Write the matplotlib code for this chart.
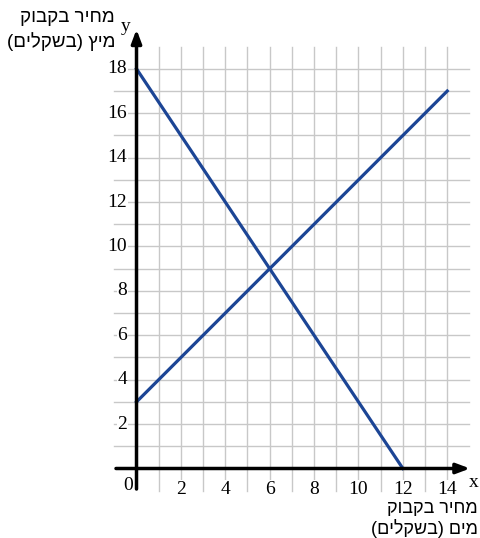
import matplotlib
matplotlib.use("Agg")
import matplotlib.pyplot as plt

# נתונים
ירידה_x = [0, 12]
ירידה_y = [18, 0]
עלייה_x = [0, 14]
עלייה_y = [3, 17]

x_ticks = [2, 4, 6, 8, 10, 12, 14]
y_ticks = [2, 4, 6, 8, 10, 12, 14, 16, 18]

label_x = ["מחיר בקבוק", "מים (בשקלים)"]
label_y = ["מחיר בקבוק", "מיץ (בשקלים)"]


def rtl(s):
    # matplotlib has no bidi, so the text is reversed by hand
    s = s[::-1]
    return s.translate(str.maketrans("()", ")("))


heb_font = ["Liberation Sans", "DejaVu Sans"]
num_font = ["Liberation Serif", "DejaVu Serif"]

fig = plt.figure(figsize=(4.81, 5.38), dpi=100)
ax = fig.add_axes([0, 0, 1, 1])
ax.set_xlim(-6.15, 15.52)
ax.set_ylim(-3.13, 21.10)
ax.axis("off")

grid_color = "#c8c8c8"
for gx in range(1, 15):
    ax.plot([gx, gx], [-1, 19], color=grid_color, lw=1, zorder=1)
for gy in range(1, 19):
    ax.plot([-1, 15], [gy, gy], color=grid_color, lw=1, zorder=1)

# assen met pijlen
ax.annotate("", xy=(15.15, 0), xytext=(-1.05, 0),
            arrowprops=dict(arrowstyle="-|>,head_length=0.8,head_width=0.3", color="black", lw=2.5), zorder=4)
ax.annotate("", xy=(0, 19.9), xytext=(0, -1.05),
            arrowprops=dict(arrowstyle="-|>,head_length=0.8,head_width=0.3", color="black", lw=2.5), zorder=4)

blue = "#1c4595"
ax.plot(ירידה_x, ירידה_y, color=blue, lw=2.3, zorder=3)
ax.plot(עלייה_x, עלייה_y, color=blue, lw=2.3, zorder=3)

for t in x_ticks:
    ax.text(t, -0.93, str(t), ha="center", va="center", fontsize=14, family=num_font,
            bbox=dict(facecolor="white", edgecolor="none", pad=0.5), zorder=2)
for t in y_ticks:
    ax.text(-0.42, t, str(t), ha="right", va="center", fontsize=14, family=num_font,
            bbox=dict(facecolor="white", edgecolor="none", pad=0.5), zorder=2)
ax.text(-0.4, -0.75, "0", ha="center", va="center", fontsize=14, family=num_font)
ax.text(15.2, -0.65, "x", ha="center", va="center", fontsize=14, family=num_font)
ax.text(-0.5, 19.9, "y", ha="center", va="center", fontsize=14, family=num_font)

ax.text(-0.97, 20.29, rtl(label_y[0]), ha="right", va="center", fontsize=13.5, family=heb_font)
ax.text(-0.97, 19.22, rtl(label_y[1]), ha="right", va="center", fontsize=13.5, family=heb_font)
ax.text(15.38, -1.78, rtl(label_x[0]), ha="right", va="center", fontsize=13, family=heb_font)
ax.text(15.38, -2.72, rtl(label_x[1]), ha="right", va="center", fontsize=13, family=heb_font)

fig.savefig("out.png", dpi=100)
